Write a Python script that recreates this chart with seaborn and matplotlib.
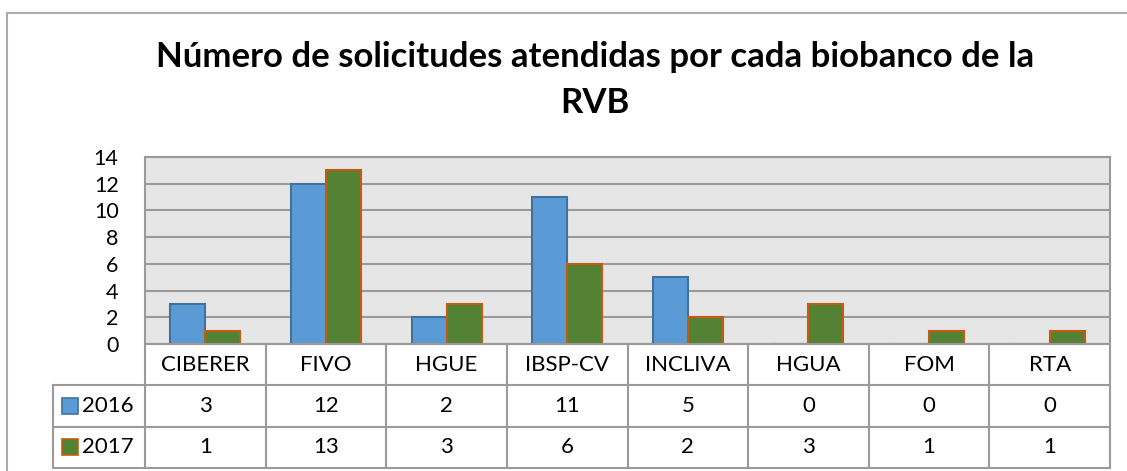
import matplotlib
matplotlib.use("Agg")
import matplotlib.pyplot as plt
import seaborn as sns
import pandas as pd
from matplotlib.patches import Rectangle

categories = ["CIBERER", "FIVO", "HGUE", "IBSP-CV", "INCLIVA", "HGUA", "FOM", "RTA"]
years = ["2016", "2017"]
values_2016 = [3, 12, 2, 11, 5, 0, 0, 0]
values_2017 = [1, 13, 3, 6, 2, 3, 1, 1]
yticks = [0, 2, 4, 6, 8, 10, 12, 14]
title_lines = ["Número de solicitudes atendidas por cada biobanco de la", "RVB"]

fill_colors = {"2016": "#5B9BD5", "2017": "#548235"}
edge_colors = {"2016": "#41719C", "2017": "#C55A11"}
grid_col = "#9A9A9A"

df = pd.DataFrame({
    "cat": categories * 2,
    "year": [years[0]] * len(categories) + [years[1]] * len(categories),
    "val": values_2016 + values_2017,
})

sns.set_theme(style="white")
plt.rcParams["font.family"] = ["Lato", "DejaVu Sans"]
plt.rcParams["text.color"] = "black"
plt.rcParams["ytick.color"] = "black"
plt.rcParams["ytick.labelcolor"] = "black"

W, H = 1127, 471
fig = plt.figure(figsize=(W / 100, H / 100), dpi=100)

def fx(px):
    return px / W

def fy(py):
    return 1 - py / H

# outer chart frame
fig.add_artist(Rectangle((fx(7), fy(480)), fx(1200) - fx(7), fy(13) - fy(480),
                         transform=fig.transFigure, fill=False, edgecolor="#ABABAB", lw=1.5))

L, R, T, B = 145, 1110, 157, 344
ax = fig.add_axes([fx(L), fy(B), fx(R) - fx(L), fy(T) - fy(B)])
ax.set_facecolor("#E7E6E6")

sns.barplot(data=df, x="cat", y="val", hue="year", order=categories, hue_order=years,
            palette=fill_colors, width=0.58, ax=ax, legend=False, saturation=1)
for cont, yr in zip(ax.containers, years):
    for p in cont.patches:
        p.set_edgecolor(edge_colors[yr])
        p.set_linewidth(1.5)
        p.set_zorder(3)

ax.set_xlim(-0.5, len(categories) - 0.5)
ax.set_ylim(0, 14)
ax.set_yticks(yticks)
ax.set_yticklabels([str(v) for v in yticks], fontsize=15.5, color="black")
ax.tick_params(axis="y", length=0, pad=19)
ax.set_xticks([])
ax.set_xlabel("")
ax.set_ylabel("")
ax.yaxis.grid(True, color=grid_col, lw=1.5)
ax.set_axisbelow(True)
for s in ax.spines.values():
    s.set_color(grid_col)
    s.set_linewidth(1.5)

# data table
TL, TB = 53, 468
tax = fig.add_axes([fx(TL), fy(TB), fx(R) - fx(TL), fy(B) - fy(TB)])
unit = (R - L) / len(categories)
x0 = -0.5 - (L - TL) / unit
x1 = len(categories) - 0.5
tax.set_xlim(x0, x1)
tax.set_ylim(3, 0)
tax.axis("off")
lc = dict(color=grid_col, lw=1.5, clip_on=False)
tax.plot([-0.5, x1], [0, 0], **lc)
for yy in [1, 2, 3]:
    tax.plot([x0, x1], [yy, yy], **lc)
for i in range(len(categories) + 1):
    tax.plot([i - 0.5, i - 0.5], [0, 3], **lc)
tax.plot([x0, x0], [1, 3], **lc)

for i, c in enumerate(categories):
    tax.text(i, 0.5, c, ha="center", va="center", fontsize=16, color="black")
    tax.text(i, 1.5, str(values_2016[i]), ha="center", va="center", fontsize=16, color="black")
    tax.text(i, 2.5, str(values_2017[i]), ha="center", va="center", fontsize=16, color="black")

mk_x = x0 + (70 - TL) / unit
txt_x = x0 + (82 - TL) / unit
for r, yr in enumerate(years):
    tax.plot([mk_x], [1.5 + r], marker="s", markersize=11, markerfacecolor=fill_colors[yr],
             markeredgecolor=edge_colors[yr], markeredgewidth=1.2, clip_on=False)
    tax.text(txt_x, 1.5 + r, yr, ha="left", va="center", fontsize=16, color="black")

for line, base in zip(title_lines, [67, 113]):
    fig.text(fx(595), fy(base), line, ha="center", va="baseline", fontsize=25,
             fontweight="bold", color="black")

fig.savefig("out.png", dpi=100, facecolor="white")
